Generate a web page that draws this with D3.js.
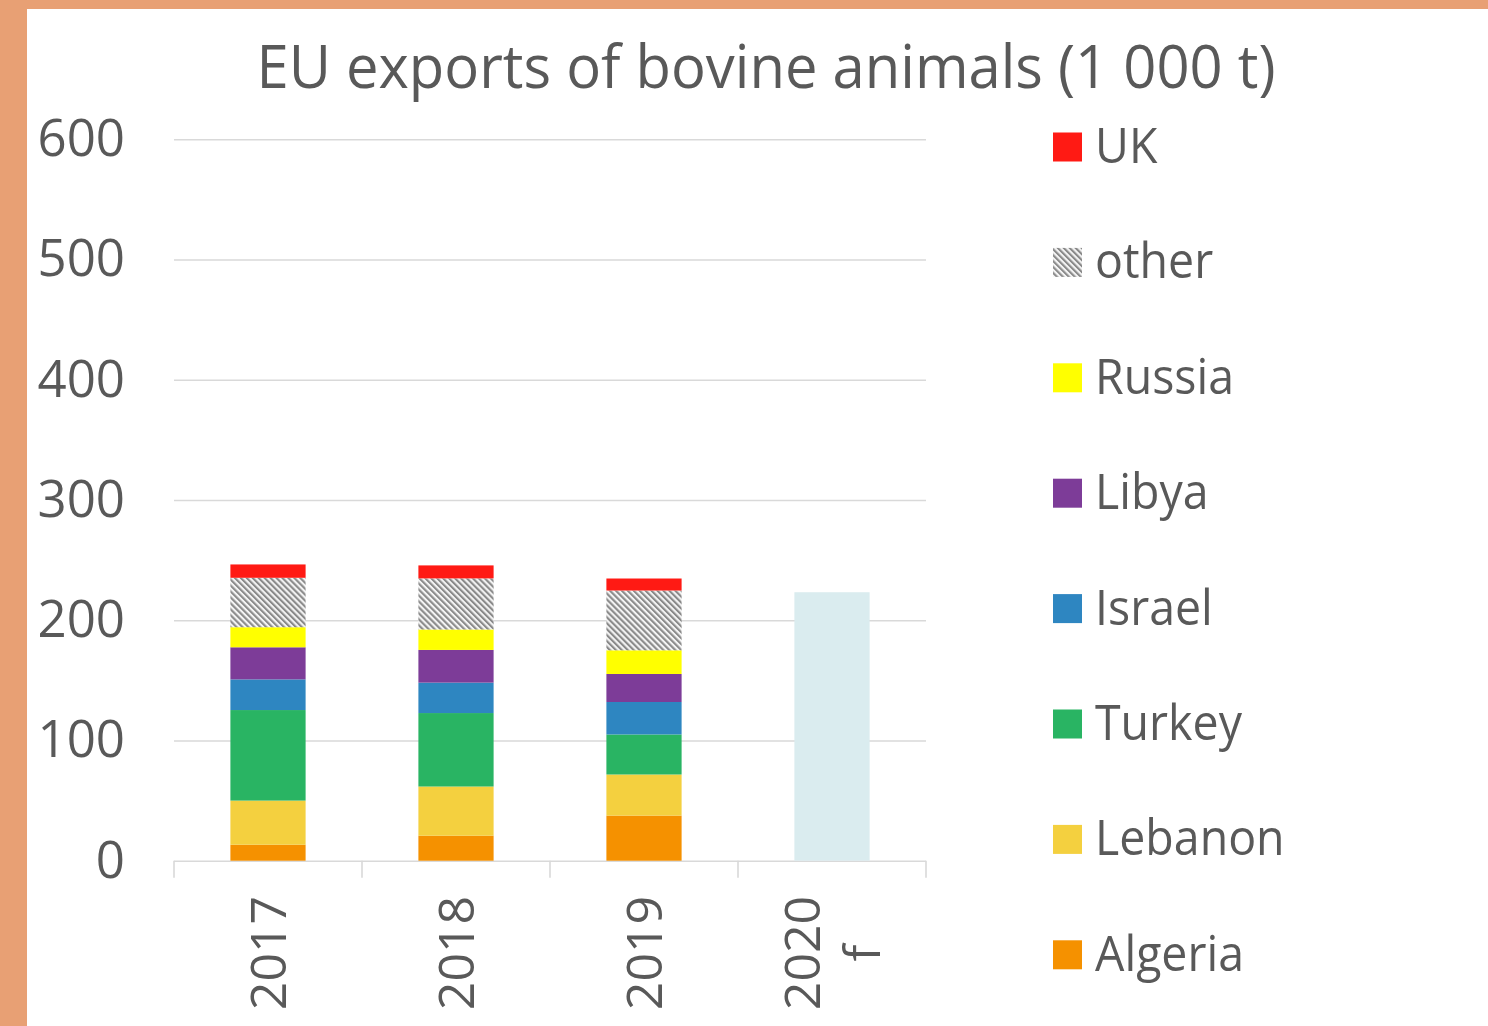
<!DOCTYPE html>
<html>
<head>
<meta charset="utf-8">
<script src="https://cdn.jsdelivr.net/npm/d3@7"></script>
<style>
  html, body { margin: 0; padding: 0; background: #fff; }
  svg { display: block; }
  text { font-family: "Open Sans", sans-serif; fill: #595959; }
</style>
</head>
<body>
<script>
// ---- Data (1 000 t) ----
const years = ["2017", "2018", "2019", "2020 f"];
const algeria = [13.3, 20.8, 37.5, 0];
const lebanon = [36.7, 40.9, 34.2, 0];
const turkey  = [75.3, 61.1, 33.3, 0];
const israel  = [25.5, 25.3, 27.0, 0];
const libya   = [26.7, 27.2, 23.3, 0];
const russia  = [16.7, 17.0, 19.7, 0];
const other   = [41.1, 42.5, 49.7, 0];
const uk      = [11.1, 10.8, 10.0, 0];
const forecast = [0, 0, 0, 223.3];
const seriesNames = ["Algeria", "Lebanon", "Turkey", "Israel", "Libya", "Russia", "other", "UK"];
const seriesValues = [algeria, lebanon, turkey, israel, libya, russia, other, uk];
const seriesColors = ["#f59100", "#f4d03f", "#29b463", "#2e86c1", "#7d3c98", "#ffff00", "url(#hatch)", "#ff1a14"];
const yTicks = [0, 100, 200, 300, 400, 500, 600];
const title = "EU exports of bovine animals (1 000 t)";

const W = 1488, H = 1026;
const svg = d3.select("body").append("svg").attr("width", W).attr("height", H);

// hatch pattern
const defs = svg.append("defs");
const pat = defs.append("pattern").attr("id", "hatch")
  .attr("patternUnits", "userSpaceOnUse").attr("width", 4.2).attr("height", 4.2)
  .attr("patternTransform", "rotate(-45)");
pat.append("rect").attr("width", 4.2).attr("height", 4.2).attr("fill", "#f4f4f4");
pat.append("rect").attr("x", 0).attr("y", 0).attr("width", 2.1).attr("height", 4.2).attr("fill", "#8a8a8a");

// background frame
svg.append("rect").attr("x", 0).attr("y", 0).attr("width", W).attr("height", H).attr("fill", "#e8a074");
svg.append("rect").attr("x", 27).attr("y", 9).attr("width", W - 27).attr("height", H - 9).attr("fill", "#ffffff");

// title
svg.append("text").attr("transform", "translate(766,88) scale(0.966,1)").attr("text-anchor", "middle")
  .attr("font-size", 60).text(title);

const plotLeft = 174, plotRight = 926, plotTop = 139.3, plotBottom = 860.7;
const x = d3.scaleBand().domain(years).range([plotLeft, plotRight]).paddingInner(0.6).paddingOuter(0.3);
const y = d3.scaleLinear().domain([0, 600]).range([plotBottom, plotTop]);

// y axis with gridlines
const yAxis = svg.append("g").attr("transform", `translate(${plotLeft},0)`)
  .call(d3.axisLeft(y).tickValues(yTicks).tickSize(-(plotRight - plotLeft)).tickPadding(49).tickFormat(d3.format("d")));
yAxis.select(".domain").remove();
yAxis.selectAll(".tick line").attr("stroke", "#d9d9d9").attr("stroke-width", 1.6);
yAxis.selectAll(".tick text").attr("font-size", 51).attr("fill", "#595959")
  .attr("font-family", "Open Sans, sans-serif");

// x tick marks at band boundaries
const step = x.step();
const boundaries = years.map(d => x(d) - step * x.paddingOuter()).concat([plotRight]);
svg.append("g").selectAll("line").data(boundaries).join("line")
  .attr("x1", d => d).attr("x2", d => d).attr("y1", plotBottom).attr("y2", plotBottom + 17)
  .attr("stroke", "#d9d9d9").attr("stroke-width", 1.6);

// stacked data
const rows = years.map((yr, i) => {
  const r = { year: yr };
  seriesNames.forEach((n, k) => r[n] = seriesValues[k][i]);
  return r;
});
const stack = d3.stack().keys(seriesNames)(rows);

const g = svg.append("g");
stack.forEach((layer, k) => {
  g.append("g").attr("fill", seriesColors[k]).selectAll("rect").data(layer).join("rect")
    .attr("x", d => x(d.data.year))
    .attr("width", x.bandwidth())
    .attr("y", d => y(d[1]))
    .attr("height", d => Math.max(0, y(d[0]) - y(d[1])));
});

// forecast bar
g.append("g").selectAll("rect").data(years.map((yr, i) => ({ year: yr, v: forecast[i] })).filter(d => d.v > 0))
  .join("rect")
  .attr("x", d => x(d.year)).attr("width", x.bandwidth())
  .attr("y", d => y(d.v)).attr("height", d => y(0) - y(d.v))
  .attr("fill", "#daecef");

// x labels, rotated
const xl = svg.append("g").selectAll("text").data(years).join("text")
  .attr("transform", d => `translate(${x(d) + x.bandwidth() / 2},953) rotate(-90)`)
  .attr("text-anchor", "middle").attr("font-size", 50);
xl.each(function (d) {
  const parts = d.split(" ");
  const t = d3.select(this);
  if (parts.length === 1) {
    t.append("tspan").attr("x", 0).attr("dy", "0.35em").text(parts[0]);
  } else {
    t.append("tspan").attr("x", 0).attr("dy", -30 + 17.5).text(parts[0]);
    t.append("tspan").attr("x", 0).attr("dy", 60).text(parts[1]);
  }
});

// legend (top = last series)
const legendItems = seriesNames.map((n, k) => ({ name: n, color: seriesColors[k] })).reverse();
const lg = svg.append("g").selectAll("g").data(legendItems).join("g")
  .attr("transform", (d, i) => `translate(1053,${147 + i * 115.4})`);
lg.append("rect").attr("x", 0).attr("y", -14.5).attr("width", 29).attr("height", 29)
  .attr("fill", d => d.color);
lg.append("text").attr("transform", "translate(42,16) scale(0.93,1)").attr("font-size", 50).text(d => d.name);
</script>
</body>
</html>
